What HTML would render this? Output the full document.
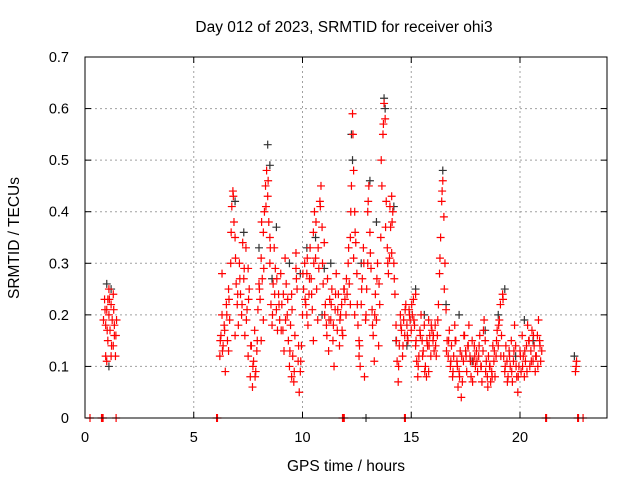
<!DOCTYPE html>
<html><head><meta charset="utf-8"><style>
body{margin:0;background:#fff}
svg{display:block;font-family:"Liberation Sans",sans-serif}
</style></head><body>
<svg id="chart" width="640" height="480">
<rect width="640" height="480" fill="#fff"/>
<text x="344" y="32" font-size="15.5" text-anchor="middle">Day 012 of 2023, SRMTID for receiver ohi3</text>
<text x="346" y="471" font-size="15.5" text-anchor="middle">GPS time / hours</text>
<text transform="translate(19,238) rotate(-90)" font-size="15.5" text-anchor="middle">SRMTID / TECUs</text>
<g id="grid"></g><g id="ticks"></g><g id="black"></g><g id="red"></g>
<rect x="85" y="57" width="522" height="361" fill="none" stroke="#000" stroke-width="1"/>
</svg>
<script>
const xTicks=[0,5,10,15,20];
const yTicks=[0,0.1,0.2,0.3,0.4,0.5,0.6,0.7];
const yTickLabels=["0","0.1","0.2","0.3","0.4","0.5","0.6","0.7"];
const redHours=[0.85,0.9,0.95,1.0,1.0,1.05,1.1,1.1,1.15,1.2,1.2,1.25,1.3,1.3,1.35,1.4,1.45,0.95,1.05,1.35,
6.2,6.25,6.3,6.35,6.4,6.45,6.5,6.55,6.6,6.65,6.7,6.75,6.8,6.85,6.9,6.95,7.0,6.3,6.6,6.9,
7.05,7.1,7.15,7.2,7.3,7.35,7.4,7.45,7.5,7.55,7.6,7.65,7.7,7.75,7.8,7.85,7.9,7.95,8.0,7.25,7.5,
8.05,8.1,8.15,8.2,8.25,8.3,8.35,8.4,8.45,8.5,8.55,8.6,8.65,8.7,8.75,8.8,8.85,8.9,8.95,9.0,8.2,8.5,8.1,
9.05,9.1,9.15,9.2,9.25,9.3,9.35,9.4,9.45,9.5,9.55,9.6,9.65,9.7,9.75,9.8,9.85,9.9,9.95,10.0,9.7,9.5,
10.05,10.1,10.15,10.2,10.25,10.3,10.35,10.4,10.45,10.5,10.55,10.6,10.65,10.7,10.75,10.8,10.85,10.9,10.95,11.0,10.5,10.2,
11.05,11.1,11.15,11.2,11.25,11.3,11.35,11.4,11.45,11.5,11.55,11.6,11.65,11.7,11.75,11.8,11.85,11.9,11.95,12.0,
12.05,12.1,12.15,12.2,12.25,12.3,12.35,12.4,12.45,12.5,12.2,12.35,12.4,
12.55,12.6,12.65,12.7,12.75,12.8,12.85,12.9,12.95,13.0,13.05,13.1,13.15,13.2,13.25,13.3,13.35,13.4,13.45,13.5,12.6,13.0,
13.55,13.6,13.65,13.7,13.75,13.8,13.85,13.9,13.95,14.0,
14.05,14.1,14.15,14.2,14.25,14.3,14.35,14.4,14.45,14.5,14.55,14.6,14.65,14.7,14.75,14.8,14.85,14.9,14.95,15.0,14.1,
15.05,15.1,15.15,15.2,15.25,15.3,15.35,15.4,15.45,15.5,15.55,15.6,15.65,15.7,15.75,15.8,15.85,15.9,15.95,16.0,15.2,15.8,
16.05,16.1,16.15,16.2,16.25,16.3,16.35,16.4,16.45,16.5,16.55,16.6,
16.65,16.7,16.75,16.8,16.85,16.9,16.95,17.0,17.05,17.1,17.15,17.2,17.25,17.3,17.35,17.4,17.45,17.5,17.55,17.6,17.65,17.7,17.75,17.8,17.85,17.9,17.95,18.0,
18.05,18.1,18.15,18.2,18.25,18.3,18.35,18.4,18.45,18.5,18.55,18.6,18.65,18.7,18.75,18.8,18.85,18.9,18.95,19.0,19.05,19.1,19.15,19.2,19.25,19.3,19.35,19.4,19.45,19.5,
19.55,19.6,19.65,19.7,19.75,19.8,19.85,19.9,19.95,20.0,20.05,20.1,20.15,20.2,20.25,20.3,20.35,20.4,20.45,20.5,20.55,20.6,20.65,20.7,20.75,20.8,20.85,20.9,20.95,21.0,
22.55,22.6,22.58,
0.23,0.76,0.8,0.83,1.43,6.05,6.09,11.84,11.88,11.92,14.69,14.73,21.18,21.22,22.65,22.69,22.9,
0.92,1.02,1.12,1.22,1.32,1.42,6.22,6.32,6.42,6.52,6.62,6.72,6.82,6.92,7.02,7.12,7.22,7.32,7.42,7.52,7.62,7.72,7.82,7.92,
8.02,8.12,8.22,8.32,8.42,8.52,8.62,8.72,8.82,8.92,9.02,9.12,9.22,9.32,9.42,9.52,9.62,9.72,9.82,9.92,
10.02,10.12,10.22,10.32,10.42,10.52,10.62,10.72,10.82,10.92,11.02,11.12,11.22,11.32,11.42,11.52,11.62,11.72,11.82,11.92,
12.02,12.12,12.22,12.32,12.42,12.52,12.62,12.72,12.82,12.92,13.02,13.12,13.22,13.32,13.42,13.52,13.62,13.72,13.82,13.92,
14.02,14.12,14.22,14.32,14.42,14.52,14.62,14.72,14.82,14.92,15.02,15.12,15.22,15.32,15.42,15.52,15.62,15.72,15.82,15.92,
16.02,16.12,16.22,16.32,16.42,16.52,16.62,16.72,16.82,16.92,17.02,17.12,17.22,17.32,17.42,17.52,17.62,17.72,17.82,17.92,
18.02,18.12,18.22,18.32,18.42,18.52,18.62,18.72,18.82,18.92,19.02,19.12,19.22,19.32,19.42,19.52,19.62,19.72,19.82,19.92,
20.02,20.12,20.22,20.32,20.42,20.52,20.62,20.72,20.82,20.92];
const redValues=[.19,.23,.18,.21,.11,.15,.20,.25,.17,.12,.22,.19,.14,.24,.18,.12,.19,.12,.23,.16,
.12,.16,.20,.14,.18,.09,.22,.15,.25,.19,.30,.41,.44,.38,.35,.26,.22,.28,.13,.16,
.18,.30,.24,.20,.27,.16,.33,.21,.12,.25,.08,.14,.06,.11,.17,.09,.13,.21,.26,.34,.29,
.23,.31,.27,.36,.40,.45,.48,.43,.38,.30,.22,.18,.26,.33,.29,.21,.17,.24,.19,.28,.19,.35,.15,
.22,.17,.13,.31,.26,.20,.15,.10,.18,.24,.12,.07,.16,.29,.25,.11,.05,.09,.14,.20,.32,.08,
.25,.30,.22,.28,.18,.24,.33,.27,.21,.36,.40,.31,.25,.19,.29,.42,.45,.37,.26,.34,.15,.20,
.22,.18,.27,.13,.23,.19,.25,.15,.10,.21,.28,.17,.24,.14,.20,.22,.16,.25,.23,.20,
.24,.30,.26,.35,.45,.59,.48,.40,.34,.28,.22,.31,.20,
.18,.12,.10,.22,.27,.33,.08,.19,.25,.40,.45,.36,.29,.21,.16,.11,.24,.19,.30,.14,.15,.30,
.22,.35,.45,.55,.61,.58,.42,.33,.28,.31,
.37,.43,.40,.30,.24,.18,.11,.07,.14,.20,.17,.12,.19,.16,.22,.18,.15,.21,.19,.17,.32,
.20,.23,.18,.14,.11,.08,.12,.17,.20,.15,.13,.18,.10,.08,.14,.19,.16,.12,.17,.15,.24,.09,
.13,.18,.12,.16,.22,.28,.35,.42,.46,.39,.30,.21,
.15,.12,.17,.10,.14,.08,.12,.18,.15,.11,.06,.09,.13,.04,.07,.11,.16,.13,.09,.14,.18,.12,.08,.15,.11,.14,.10,.13,
.09,.12,.16,.10,.07,.13,.19,.15,.11,.08,.12,.10,.07,.09,.14,.11,.08,.12,.17,.14,.19,.22,.16,.24,.12,.09,.14,.11,.08,.13,
.10,.15,.07,.11,.18,.14,.08,.05,.10,.13,.09,.16,.12,.08,.11,.14,.18,.15,.10,.13,.17,.11,.14,.09,.12,.16,.19,.15,.11,.13,
.09,.11,.10,
0,0,0,0,0,0,0,0,0,0,0,0,0,0,0,0,0,
.21,.17,.23,.14,.21,.16,.15,.13,.17,.20,.23,.36,.43,.31,.24,.27,.22,.29,.19,.23,.14,.10,.08,.15,
.25,.38,.29,.41,.46,.33,.20,.24,.27,.22,.17,.24,.19,.23,.13,.21,.09,.27,.14,.11,
.28,.23,.31,.27,.24,.30,.38,.33,.41,.30,.20,.16,.19,.22,.18,.24,.21,.19,.17,.25,
.27,.33,.40,.55,.36,.22,.14,.25,.30,.20,.42,.32,.18,.20,.27,.26,.50,.57,.37,.30,
.41,.38,.27,.15,.10,.18,.14,.21,.16,.20,.22,.19,.15,.10,.16,.12,.09,.15,.14,.18,
.16,.14,.19,.31,.44,.25,.13,.15,.11,.09,.15,.10,.08,.12,.16,.12,.14,.11,.07,.12,
.11,.14,.10,.17,.09,.06,.10,.08,.13,.15,.18,.12,.23,.10,.07,.12,.09,.13,.10,.08,
.12,.10,.13,.09,.15,.11,.16,.12,.10,.14];
const blackHours=[1.0,1.1,1.2,6.9,7.3,8.0,8.4,8.5,8.8,9.4,9.9,10.2,10.6,11.0,11.3,12.25,12.3,12.7,13.1,13.4,13.75,13.8,14.2,14.3,15.2,15.6,16.45,16.6,17.2,18.4,19.0,19.3,19.8,20.2,20.6,22.5,12.92,8.6,10.9,14.8,17.8];
const blackValues=[.26,.10,.25,.42,.36,.33,.53,.49,.37,.30,.28,.33,.35,.29,.30,.55,.50,.30,.46,.38,.62,.60,.41,.15,.25,.20,.48,.22,.20,.17,.20,.25,.12,.19,.15,.12,0,.27,.20,.14,.11];

const X0=85,X1=607,Y0=418,Y1=57,XMAX=24,YMAX=0.7;
const sx=h=>X0+(X1-X0)*h/XMAX;
const sy=v=>Y0-(Y0-Y1)*v/YMAX;
const NS="http://www.w3.org/2000/svg";
function mk(tag,attrs,parent){const e=document.createElementNS(NS,tag);for(const k in attrs)e.setAttribute(k,attrs[k]);parent.appendChild(e);return e;}
const grid=document.getElementById('grid'),ticks=document.getElementById('ticks');
xTicks.forEach(t=>{
  const x=sx(t);
  if(t>0){const g=mk('line',{x1:x,x2:x,y1:Y0,y2:Y1,stroke:'#a0a0a0','stroke-dasharray':'2,3'},grid);
  
  }
  mk('line',{x1:x,x2:x,y1:Y0,y2:Y0-6,stroke:'#000'},ticks);
  mk('line',{x1:x,x2:x,y1:Y1,y2:Y1+6,stroke:'#000'},ticks);
  const l=mk('text',{x:x,y:Y0+24,'font-size':14.5,'text-anchor':'middle'},ticks);
  l.textContent=String(t);
  
  
});
yTicks.forEach((t,i)=>{
  const y=sy(t);
  if(t>0&&t<0.7){const g=mk('line',{x1:X0,x2:X1,y1:y,y2:y,stroke:'#a0a0a0','stroke-dasharray':'2,3'},grid);
  
  }
  mk('line',{x1:X0,x2:X0+6,y1:y,y2:y,stroke:'#000'},ticks);
  mk('line',{x1:X1,x2:X1-6,y1:y,y2:y,stroke:'#000'},ticks);
  const l=mk('text',{x:X0-16,y:y+5,'font-size':14.5,'text-anchor':'end'},ticks);
  l.textContent=yTickLabels[i];
  
  
});
function plot(hours,vals,color,gid,name){
  const g=document.getElementById(gid);
  let d='';
  hours.forEach((h,i)=>{const x=sx(h),y=sy(vals[i]);d+=`M${x-4},${y}h8M${x},${y-4}v8`;});
  const p=mk('path',{d:d,stroke:color,'stroke-width':1.2,fill:'none'},g);
  
  
}
plot(blackHours,blackValues,'#333','black','black-series-points');
plot(redHours,redValues,'#f00','red','red-series-points');
</script>
</body></html>
